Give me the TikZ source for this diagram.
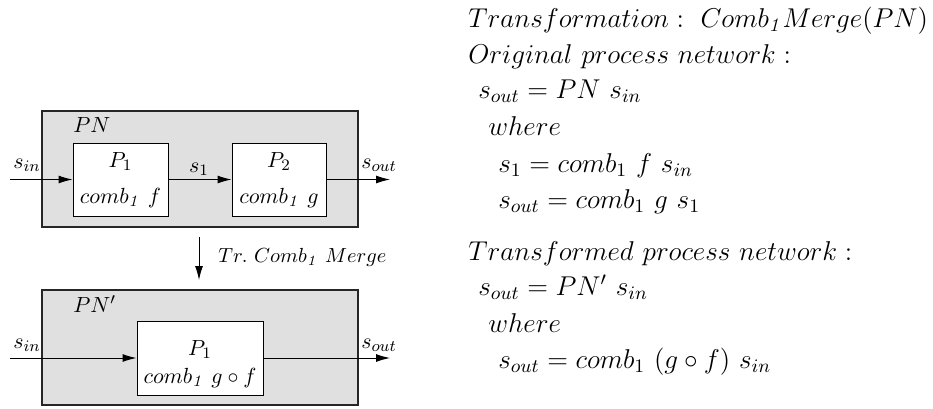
\documentclass[tikz,border=0pt]{standalone}
\usepackage{fix-cm}
\usetikzlibrary{arrows.meta}
\begin{document}
\begin{tikzpicture}[x=0.5pt,y=-0.5pt,
  outerbox/.style={draw=black!85,line width=0.8pt,fill=black!12,inner sep=0pt},
  procbox/.style={draw=black,line width=0.5pt,fill=white,inner sep=0pt},
  dlabel/.style={font=\fontsize{10.95}{12}\selectfont,inner sep=0pt},
  rtext/.style={font=\fontsize{13.6}{16}\selectfont,anchor=base west,inner sep=0pt},
  sig/.style={line width=0.5pt,-{Latex[length=7pt,width=4pt]}}]
\useasboundingbox (0,0) rectangle (933,408);
% upper network
\node[outerbox,minimum width=158pt,minimum height=58pt] (pn) at (200,169) {};
\node[procbox,minimum width=47.5pt,minimum height=36.5pt] (p1) at (120.5,179.5) {};
\node[procbox,minimum width=47pt,minimum height=36.5pt] (p2) at (279,179.5) {};
\node[dlabel,anchor=base west] (pnl) at (73,132) {$PN$};
\node[dlabel,anchor=base] (p1a) at (120.5,167) {$P_1$};
\node[dlabel,anchor=base] (p1b) at (120.5,203) {$comb_{\mathit{1}}\ f$};
\node[dlabel,anchor=base] (p2a) at (279,167) {$P_2$};
\node[dlabel,anchor=base] (p2b) at (279,203) {$comb_{\mathit{1}}\ g$};
\coordinate (in1) at (10,179.5);
\coordinate (out1) at (390,179.5);
\draw[sig] (in1) -- (p1.west);
\draw[sig] (p1.east) -- (p2.west);
\draw[sig] (p2.east) -- (out1);
\node[dlabel,anchor=base] (sin1) at (27,168) {$s_{in}$};
\node[dlabel,anchor=base] (s1l) at (199,172) {$s_1$};
\node[dlabel,anchor=base] (sout1) at (379,168) {$s_{out}$};
% transformation arrow
\coordinate (tra) at (199,237);
\coordinate (trb) at (199,280);
\draw[sig] (tra) -- (trb);
\node[dlabel,font=\fontsize{10.2}{12}\selectfont,anchor=west] (trl) at (218,257) {$Tr.\ Comb_{\mathit{1}}\ Merge$};
% lower network
\node[outerbox,minimum width=158pt,minimum height=57.5pt] (pn2) at (200,347.5) {};
\node[procbox,minimum width=63pt,minimum height=37pt] (q1) at (200,358) {};
\node[dlabel,anchor=base west] (pn2l) at (73,312) {$PN'$};
\node[dlabel,anchor=base] (q1a) at (200,355) {$P_1$};
\node[dlabel,anchor=base] (q1b) at (200,383) {$comb_{\mathit{1}}\ g\circ f$};
\coordinate (in2) at (10,358);
\coordinate (out2) at (390,358);
\draw[sig] (in2) -- (q1.west);
\draw[sig] (q1.east) -- (out2);
\node[dlabel,anchor=base] (sin2) at (27,348) {$s_{in}$};
\node[dlabel,anchor=base] (sout2) at (379,348) {$s_{out}$};
% right text
\node[rtext] (t1) at (468,27) {$Transformation :\ Comb_{\mathit{1}} Merge(PN)$};
\node[rtext] (t2) at (468,63) {$Original\ process\ network :$};
\node[rtext] (t3) at (478,98) {$s_{out} = PN\ s_{in}$};
\node[rtext] (t4) at (488,135) {$where$};
\node[rtext] (t5) at (498,172) {$s_1 = comb_1\ f\ s_{in}$};
\node[rtext] (t6) at (498,208) {$s_{out} = comb_1\ g\ s_1$};
\node[rtext] (t7) at (468,260) {$Transformed\ process\ network :$};
\node[rtext] (t8) at (478,295) {$s_{out} = PN'\ s_{in}$};
\node[rtext] (t9) at (488,332) {$where$};
\node[rtext] (t10) at (498,368) {$s_{out} = comb_1\ (g\circ f)\ s_{in}$};
\end{tikzpicture}
\end{document}
